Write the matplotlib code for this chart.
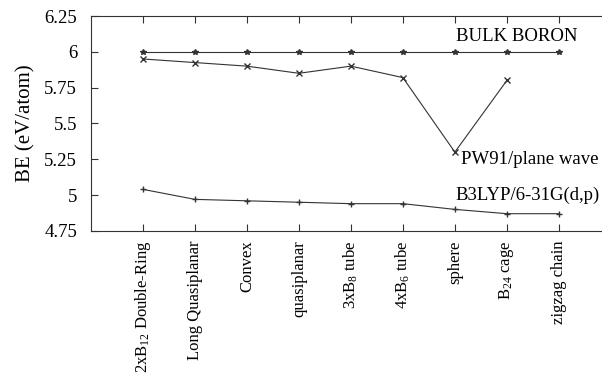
import numpy as np
import matplotlib
matplotlib.use('Agg')
import matplotlib.pyplot as plt

plt.rcParams['font.family'] = 'Liberation Serif'
plt.rcParams['mathtext.fontset'] = 'custom'
plt.rcParams['mathtext.rm'] = 'Liberation Serif'
plt.rcParams['mathtext.default'] = 'regular'

## Data

categories = ['2xB$_{12}$ Double-Ring', 'Long Quasiplanar', 'Convex', 'quasiplanar',
              '3xB$_8$ tube', '4xB$_6$ tube', 'sphere', 'B$_{24}$ cage', 'zigzag chain']
bulk = [6.0, 6.0, 6.0, 6.0, 6.0, 6.0, 6.0, 6.0, 6.0]
pw91 = [5.95, 5.925, 5.90, 5.85, 5.90, 5.82, 5.30, 5.80]
b3lyp = [5.04, 4.97, 4.96, 4.95, 4.94, 4.94, 4.90, 4.87, 4.87]

x = np.arange(1, len(categories) + 1)

## Plotting

fig = plt.figure(figsize=(6.02, 3.81), dpi=100)
ax = fig.add_axes([0.151, 0.394, 0.849, 0.564])

ax.plot(x, bulk, color='#333333', linewidth=0.8, marker='*', markersize=4)
ax.plot(x[:len(pw91)], pw91, color='#333333', linewidth=0.8, marker='x', markersize=4)
ax.plot(x, b3lyp, color='#333333', linewidth=0.8, marker='+', markersize=5)

ax.text(7.02, 6.11, 'BULK BORON', fontsize=13.5, va='center')
ax.text(7.12, 5.245, 'PW91/plane wave', fontsize=13.5, va='center')
ax.text(7.02, 5.0, 'B3LYP/6-31G(d,p)', fontsize=13.5, va='center')

ax.set_xlim(0, 9.83)
ax.set_ylim(4.75, 6.25)
ax.set_xticks(x)
ax.set_xticklabels(categories, rotation=90, fontsize=12)
ax.set_yticks([4.75, 5, 5.25, 5.5, 5.75, 6, 6.25])
ax.set_yticklabels(['4.75', '5', '5.25', '5.5', '5.75', '6', '6.25'], fontsize=13.5)
ax.tick_params(direction='in', length=5, top=True, color='#333333')
ax.tick_params(axis='y', pad=10)
ax.tick_params(axis='x', pad=7)
ax.spines['right'].set_visible(False)
for s in ['left', 'top', 'bottom']:
    ax.spines[s].set_color('#333333')
    ax.spines[s].set_linewidth(0.8)
ax.set_ylabel('BE (eV/atom)', fontsize=15, labelpad=6)

fig.savefig('out.png', dpi=100)
